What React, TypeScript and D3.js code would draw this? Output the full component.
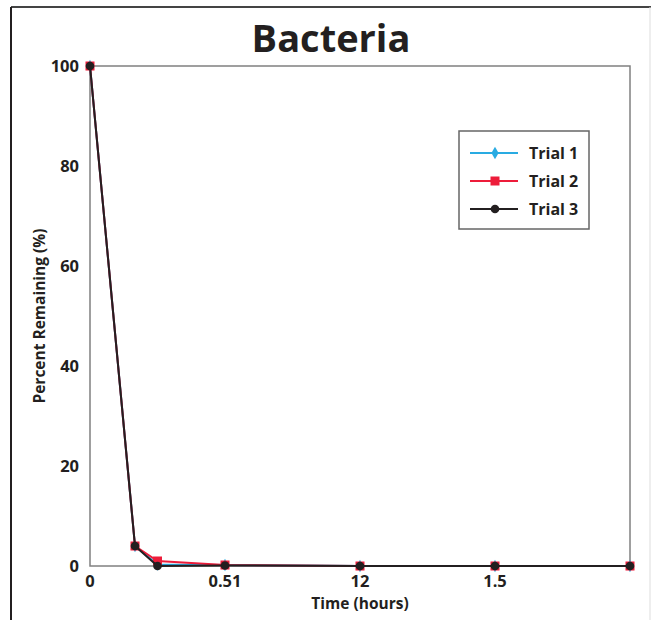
import * as d3 from 'd3';

// time in hours (10 min, 15 min, 30 min, ...)
const times = [0, 1 / 6, 0.25, 0.5, 1, 1.5, 2];
const trial1 = [100, 4, 0.3, 0.2, 0, 0, 0];
const trial2 = [100, 4, 1, 0.2, 0, 0, 0];
const trial3 = [100, 4, 0, 0.1, 0, 0, 0];

const xTickValues = [0, 0.5, 1, 1.5];
const xTickLabels = ['0', '0.51', '12', '1.5'];
const yTickValues = [0, 20, 40, 60, 80, 100];

const seriesNames = ['Trial 1', 'Trial 2', 'Trial 3'];
const seriesColors = ['#29abe2', '#ed1c3a', '#231f20'];

const W = 651;
const H = 620;
const margin = { top: 66, right: 21, bottom: 54, left: 90 };
const FONT = '"Open Sans", "Noto Sans", sans-serif';

export default function App() {
  const x = d3.scaleLinear().domain([0, 2]).range([margin.left, W - margin.right]);
  const y = d3.scaleLinear().domain([0, 100]).range([H - margin.bottom, margin.top]);
  const line = d3
    .line<number>()
    .x((_, i) => x(times[i]))
    .y((d) => y(d));

  const all = [trial1, trial2, trial3];
  const diamond = d3.symbol(d3.symbolDiamond, 45)()!;
  const plotCx = (margin.left + W - margin.right) / 2;

  const marker = (k: number, cx: number, cy: number, key: string) => {
    if (k === 0)
      return <path key={key} d={diamond} transform={`translate(${cx},${cy})`} fill={seriesColors[0]} />;
    if (k === 1)
      return <rect key={key} x={cx - 4.5} y={cy - 4.5} width={9} height={9} fill={seriesColors[1]} />;
    return <circle key={key} cx={cx} cy={cy} r={4.3} fill={seriesColors[2]} />;
  };

  const legend = { x: 459, y: 131, w: 130, h: 98 };

  return (
    <svg
      width={W}
      height={H}
      style={{ position: 'absolute', left: 0, top: 0, fontFamily: FONT }}
    >
      <rect x={0} y={0} width={W} height={H} fill="#fff" />
      {/* outer frame */}
      <line x1={11} x2={W} y1={7} y2={7} stroke="#444" strokeWidth={2} />
      <line x1={11} x2={11} y1={7} y2={H} stroke="#231f20" strokeWidth={2} />
      <line x1={650} x2={650} y1={7} y2={H} stroke="#ddd" strokeWidth={1} />

      <text x={331} y={52} textAnchor="middle" fontSize={38} fontWeight={700} fill="#231f20">
        Bacteria
      </text>

      {/* plot frame */}
      <rect
        x={margin.left}
        y={margin.top}
        width={W - margin.left - margin.right}
        height={H - margin.bottom - margin.top}
        fill="none"
        stroke="#808080"
        strokeWidth={1.5}
      />

      {yTickValues.map((v) => (
        <text
          key={v}
          x={margin.left - 11}
          y={y(v)}
          dy="0.35em"
          textAnchor="end"
          fontSize={16.5}
          fontWeight={700}
          fill="#231f20"
        >
          {v}
        </text>
      ))}
      {xTickValues.map((v, i) => (
        <text
          key={v}
          x={x(v)}
          y={H - margin.bottom + 15}
          dy="0.35em"
          textAnchor="middle"
          fontSize={16.5}
          fontWeight={700}
          fill="#231f20"
        >
          {xTickLabels[i]}
        </text>
      ))}

      <text x={plotCx} y={609} textAnchor="middle" fontSize={15.5} fontWeight={700} fill="#231f20">
        Time (hours)
      </text>
      <text
        transform={`translate(45,${(margin.top + H - margin.bottom) / 2}) rotate(-90)`}
        textAnchor="middle"
        fontSize={15.5}
        fontWeight={700}
        fill="#231f20"
      >
        Percent Remaining (%)
      </text>

      {all.map((s, k) => (
        <g key={k}>
          <path d={line(s)!} fill="none" stroke={seriesColors[k]} strokeWidth={2} />
          {s.map((v, i) => marker(k, x(times[i]), y(v), `${k}-${i}`))}
        </g>
      ))}

      {/* legend */}
      <rect x={legend.x} y={legend.y} width={legend.w} height={legend.h} fill="#fff" stroke="#666" strokeWidth={1.5} />
      {seriesNames.map((name, k) => {
        const ly = legend.y + 22 + k * 28;
        return (
          <g key={name}>
            <line x1={470} x2={518} y1={ly} y2={ly} stroke={seriesColors[k]} strokeWidth={2} />
            {marker(k, 495, ly, `l${k}`)}
            <text x={529} y={ly} dy="0.35em" fontSize={16} fontWeight={700} fill="#231f20">
              {name}
            </text>
          </g>
        );
      })}
    </svg>
  );
}
